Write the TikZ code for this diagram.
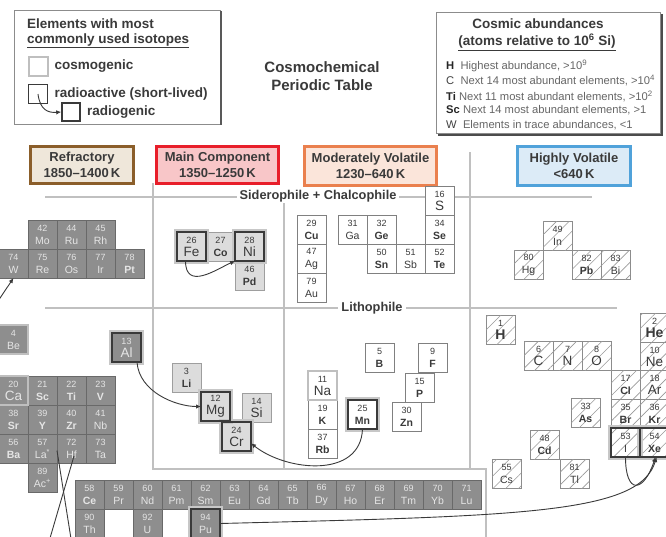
\documentclass[tikz,border=0pt]{standalone}
\usepackage{fontspec}
\setmainfont{Liberation Sans}
\usetikzlibrary{positioning, arrows.meta, patterns.meta, calc}

\definecolor{refrline}{RGB}{139,94,42}
\definecolor{refrfill}{RGB}{239,231,218}
\definecolor{mainline}{RGB}{232,30,42}
\definecolor{mainfill}{RGB}{248,198,200}
\definecolor{modline}{RGB}{234,128,78}
\definecolor{modfill}{RGB}{251,229,218}
\definecolor{volline}{RGB}{80,162,218}
\definecolor{volfill}{RGB}{220,235,247}
\definecolor{inkgray}{RGB}{58,58,58}
\definecolor{zonegray}{RGB}{192,192,192}
\definecolor{tiledark}{RGB}{142,142,142}
\definecolor{tileedge}{RGB}{105,105,105}
\definecolor{tilelight}{RGB}{220,220,220}

% number and symbol fonts (abundance classes of the key)
\newcommand\anum[1]{{\fontsize{9}{9}\selectfont #1}}
\newcommand\symH[1]{{\fontsize{14}{14}\selectfont\bfseries #1}}
\newcommand\symC[1]{{\fontsize{13.5}{14}\selectfont #1}}
\newcommand\symTi[1]{{\fontsize{10.5}{11}\selectfont\bfseries #1}}
\newcommand\symW[1]{{\fontsize{10.5}{11}\selectfont #1}}

\begin{document}
\begin{tikzpicture}[x=1pt, y=-1pt,
  tile/.style={draw, minimum width=29pt, minimum height=29pt, inner sep=0pt, outer sep=0pt,
    anchor=north west, align=center, font=\fontsize{8}{13}\selectfont, line width=0.7pt},
  refr/.style={tile, fill=tiledark, draw=tileedge, text=white!90!black},
  core/.style={tile, fill=tilelight, draw=black!38, text=inkgray},
  modv/.style={tile, fill=white, draw=black!50, text=inkgray},
  volh/.style={tile, fill=white, draw=black!45, text=inkgray,
    postaction={pattern={Lines[angle=45, distance=9pt, line width=0.6pt]}, pattern color=black!40}},
  halo/.style={draw=black!22, line width=3pt},
  radioedge/.style={draw=inkgray, line width=2.2pt},
  cosmoedge/.style={draw=black!25, line width=2.4pt},
  zone/.style={draw=zonegray, line width=2pt},
  zonelabel/.style={fill=white, text=inkgray, font=\bfseries\fontsize{12.8}{13}\selectfont, inner xsep=3pt, inner ysep=1pt},
  catbox/.style={line width=3pt, align=center, text=inkgray, font=\bfseries\fontsize{13}{16}\selectfont, inner sep=2pt},
  headtxt/.style={text=inkgray, font=\bfseries\fontsize{13.5}{15}\selectfont, inner sep=0pt},
  abtxt/.style={text=black!60, font=\fontsize{11.2}{13}\selectfont, anchor=west, inner sep=0pt},
  decay/.style={draw=inkgray, line width=0.9pt, -{Latex[length=5pt, width=4.5pt]}},
  legframe/.style={draw=black!45, line width=0.8pt},
  keybox/.style={minimum size=19pt, inner sep=0pt}
]
\useasboundingbox (0,0) rectangle (666,536);
\fill[white] (0,0) rectangle (666,536);
\clip (0,0) rectangle (666,536);

% key: isotopes
\draw[legframe] (14,10) rectangle (220,124);
\draw[black!65, line width=2pt] (221,11) -- (221,125);
\node[headtxt, anchor=west] (legtitle) at (27,24) {Elements with most};
\node[headtxt, anchor=west] (legsub) at (27,41) {\underline{commonly used isotopes}};
\node[keybox, draw=black!25, line width=2pt] (keycos) at (38,66) {};
\node[headtxt, anchor=west, right=6pt of keycos] (keycostxt) {cosmogenic};
\node[keybox, draw=inkgray, line width=1.6pt] (keyrad) at (38,94) {};
\node[headtxt, anchor=west, right=6pt of keyrad] (keyradtxt) {radioactive (short-lived)};
\node[keybox, minimum size=18pt, draw=inkgray, line width=1.6pt] (keygen) at (71,112) {};
\node[headtxt, anchor=west, right=6pt of keygen] (keygentxt) {radiogenic};
\draw[decay] (keyrad.center) .. controls (40,110) and (48,113) .. (keygen.west);

% title
\node[headtxt, align=center, font=\bfseries\fontsize{15}{18}\selectfont] (title) at (322,76) {Cosmochemical\\Periodic Table};

% key: abundances
\draw[legframe] (436,12) rectangle (660,133);
\draw[black!70, line width=2.5pt] (438,135) -- (662,135) -- (662,14);
\node[headtxt] (abtitle) at (538,24) {Cosmic abundances};
\node[headtxt] (absub) at (537,42) {\underline{(atoms relative to 10\textsuperscript{6} Si)}};
\node[abtxt] (abH) at (446,66) {\textcolor{black!85}{\textbf{H}}\ \ Highest abundance, >10\textsuperscript{9}};
\node[abtxt] (abC) at (446,81) {\textcolor{black!75}{C}\ \ Next 14 most abundant elements, >10\textsuperscript{4}};
\node[abtxt] (abTi) at (446,96) {\textcolor{black!85}{\textbf{Ti}}\ Next 11 most abundant elements, >10\textsuperscript{2}};
\node[abtxt] (abSc) at (446,110) {\textcolor{black!85}{\textbf{Sc}}\ Next 14 most abundant elements, >1};
\node[abtxt] (abW) at (446,125) {\textcolor{black!75}{W}\ \ Elements in trace abundances, <1};

% zone frame
\draw[zone] (45,197) -- (592,197);
\draw[zone] (45,308) -- (617,308);
\draw[zone] (153,183) -- (153,469) -- (486,469) -- (486,540);
\draw[zone] (284,197) -- (284,469);
\draw[zone] (470,152) -- (470,469);
\node[zonelabel] (sidero) at (318,196) {Siderophile + Chalcophile};
\node[zonelabel] (litho) at (372,308) {Lithophile};

% condensation classes
\node[catbox, draw=refrline, fill=refrfill, minimum width=103pt, minimum height=37pt] (refract) at (82,165) {Refractory\\1850--1400\,K};
\node[catbox, draw=mainline, fill=mainfill, minimum width=122pt, minimum height=37pt] (maincomp) at (217.5,165) {Main Component\\1350--1250\,K};
\node[catbox, draw=modline, fill=modfill, minimum width=132pt, minimum height=39pt] (modvol) at (370.5,166) {Moderately Volatile\\1230--640\,K};
\node[catbox, draw=volline, fill=volfill, minimum width=113pt, minimum height=39pt] (highvol) at (574,166) {Highly Volatile\\<640\,K};

% refractory
\node[refr] (Mo) at (28,220) {\anum{42}\\\symW{Mo}};
\node[refr, right=0pt of Mo] (Ru) {\anum{44}\\\symW{Ru}};
\node[refr, right=0pt of Ru] (Rh) {\anum{45}\\\symW{Rh}};
\node[refr] (W) at (-1,249) {\anum{74}\\\symW{W}};
\node[refr, right=0pt of W] (Re) {\anum{75}\\\symW{Re}};
\node[refr, right=0pt of Re] (Os) {\anum{76}\\\symW{Os}};
\node[refr, right=0pt of Os] (Ir) {\anum{77}\\\symW{Ir}};
\node[refr, right=0pt of Ir] (Pt) {\anum{78}\\\symTi{Pt}};
\node[refr] (Be) at (-1,325) {\anum{4}\\\symW{Be}};
\node[refr] (Al) at (112,333) {\anum{13}\\\symC{Al}};
\node[refr] (Ca) at (-1,376) {\anum{20}\\\symC{Ca}};
\node[refr, right=0pt of Ca] (Sc) {\anum{21}\\\symTi{Sc}};
\node[refr, right=0pt of Sc] (Ti) {\anum{22}\\\symTi{Ti}};
\node[refr, right=0pt of Ti] (V) {\anum{23}\\\symTi{V}};
\node[refr, below=0pt of Ca] (Sr) {\anum{38}\\\symTi{Sr}};
\node[refr, right=0pt of Sr] (Y) {\anum{39}\\\symTi{Y}};
\node[refr, right=0pt of Y] (Zr) {\anum{40}\\\symTi{Zr}};
\node[refr, right=0pt of Zr] (Nb) {\anum{41}\\\symW{Nb}};
\node[refr, below=0pt of Sr] (Ba) {\anum{56}\\\symTi{Ba}};
\node[refr, right=0pt of Ba] (La) {\anum{57}\\\symW{La\textsuperscript{*}}};
\node[refr, right=0pt of La] (Hf) {\anum{72}\\\symW{Hf}};
\node[refr, right=0pt of Hf] (Ta) {\anum{73}\\\symW{Ta}};
\node[refr, below=0pt of La] (Ac) {\anum{89}\\\symW{Ac\textsuperscript{+}}};
\foreach \z/\s [count=\i from 0] in {58/\symTi{Ce},59/\symW{Pr},60/\symW{Nd},61/\symW{Pm},62/\symW{Sm},
    63/\symW{Eu},64/\symW{Gd},65/\symW{Tb},66/\symW{Dy},67/\symW{Ho},68/\symW{Er},69/\symW{Tm},70/\symW{Yb},71/\symW{Lu}}
  \node[refr] (lan\z) at (75+29*\i,480) {\anum{\z}\\\s};
\node[refr] (Th) at (75,509) {\anum{90}\\\symW{Th}};
\node[refr] (U) at (133,509) {\anum{92}\\\symW{U}};
\node[refr] (Pu) at (191,509) {\anum{94}\\\symW{Pu}};

% main component
\node[core] (Fe) at (177,232) {\anum{26}\\\symC{Fe}};
\node[core, right=0pt of Fe] (Co) {\anum{27}\\\symTi{Co}};
\node[core, right=0pt of Co] (Ni) {\anum{28}\\\symC{Ni}};
\node[core, below=0pt of Ni] (Pd) {\anum{46}\\\symTi{Pd}};
\node[core] (Li) at (172,363) {\anum{3}\\\symTi{Li}};
\node[core] (Mg) at (201,392) {\anum{12}\\\symC{Mg}};
\node[core] (Si) at (242,393) {\anum{14}\\\symC{Si}};
\node[core] (Cr) at (222,422) {\anum{24}\\\symC{Cr}};

% moderately volatile
\node[modv] (Cu) at (297,215) {\anum{29}\\\symTi{Cu}};
\node[modv, below=0pt of Cu] (Ag) {\anum{47}\\\symW{Ag}};
\node[modv, below=0pt of Ag] (Au) {\anum{79}\\\symW{Au}};
\node[modv] (Ga) at (338,215) {\anum{31}\\\symW{Ga}};
\node[modv, right=0pt of Ga] (Ge) {\anum{32}\\\symTi{Ge}};
\node[modv, below=0pt of Ge] (Sn) {\anum{50}\\\symTi{Sn}};
\node[modv, right=0pt of Sn] (Sb) {\anum{51}\\\symW{Sb}};
\node[modv, right=0pt of Sb] (Te) {\anum{52}\\\symTi{Te}};
\node[modv, above=0pt of Te] (Se) {\anum{34}\\\symTi{Se}};
\node[modv, above=0pt of Se] (S) {\anum{16}\\\symC{S}};
\node[modv] (Na) at (308,371) {\anum{11}\\\symC{Na}};
\node[modv, below=0pt of Na] (K) {\anum{19}\\\symTi{K}};
\node[modv, below=0pt of K] (Rb) {\anum{37}\\\symTi{Rb}};
\node[modv] (Mn) at (348,400) {\anum{25}\\\symTi{Mn}};
\node[modv] (B) at (365,343) {\anum{5}\\\symTi{B}};
\node[modv] (F) at (418,343) {\anum{9}\\\symTi{F}};
\node[modv] (P) at (405,373) {\anum{15}\\\symTi{P}};
\node[modv] (Zn) at (392,402) {\anum{30}\\\symTi{Zn}};

% highly volatile
\node[volh] (In) at (543,221) {\anum{49}\\\symW{In}};
\node[volh] (Hg) at (514,250) {\anum{80}\\\symW{Hg}};
\node[volh] (Pb) at (572,250) {\anum{82}\\\symTi{Pb}};
\node[volh, right=0pt of Pb] (Bi) {\anum{83}\\\symW{Bi}};
\node[volh] (H) at (486,315) {\anum{1}\\\symH{H}};
\node[volh] (C) at (524,341) {\anum{6}\\\symC{C}};
\node[volh, right=0pt of C] (N) {\anum{7}\\\symC{N}};
\node[volh, right=0pt of N] (O) {\anum{8}\\\symC{O}};
\node[volh] (He) at (640,313) {\anum{2}\\\symH{He}};
\node[volh, below=0pt of He] (Ne) {\anum{10}\\\symC{Ne}};
\node[volh] (Cl) at (611,370) {\anum{17}\\\symTi{Cl}};
\node[volh, right=0pt of Cl] (Ar) {\anum{18}\\\symC{Ar}};
\node[volh, below=0pt of Cl] (Br) {\anum{35}\\\symTi{Br}};
\node[volh, right=0pt of Br] (Kr) {\anum{36}\\\symTi{Kr}};
\node[volh, below=0pt of Br] (I) {\anum{53}\\\symW{I}};
\node[volh, right=0pt of I] (Xe) {\anum{54}\\\symTi{Xe}};
\node[volh] (As) at (571,398) {\anum{33}\\\symTi{As}};
\node[volh] (Cd) at (530,430) {\anum{48}\\\symTi{Cd}};
\node[volh] (Tl) at (560,459) {\anum{81}\\\symW{Tl}};
\node[volh] (Cs) at (492,459) {\anum{55}\\\symW{Cs}};

% radioactive and cosmogenic frames
\foreach \e in {Al,Fe,Ni,Mg,Cr,Mn,I,Xe,Pu}
  \draw[halo] ([shift={(-1.5pt,1.5pt)}]\e.north west) rectangle ([shift={(1.5pt,-1.5pt)}]\e.south east);
\foreach \e in {Al,Fe,Ni,Mg,Cr,Mn,I,Xe,Pu}
  \draw[radioedge] (\e.north west) rectangle (\e.south east);
\foreach \e in {Be,Ca,Na}
  \draw[cosmoedge] (\e.north west) rectangle (\e.south east);

% decay systems
\coordinate (wentry) at (-8,310);
\coordinate (hfexit) at (48,545);
\coordinate (laexit) at (72,545);
\draw[decay] ([xshift=-6pt]Fe.south) .. controls +(0,30) and +(-18,8) .. (Ni.south west);
\draw[decay] ([xshift=-4pt]Al.south east) .. controls +(2,30) and +(-25,0) .. (Mg.west);
\draw[decay] (Mn.south) .. controls +(-2,50) and +(35,28) .. (Cr.-25);
\draw[decay] (I.south) .. controls +(0,38) and +(-12,36) .. ([xshift=1pt]Xe.south);
\draw[decay] (Pu.east) .. controls (520,516) and (640,514) .. ([xshift=2pt]Xe.south);
\draw[decay] (wentry) -- (W.south);
\draw[inkgray, line width=0.9pt] ($(Hf.south)+(2.5,-7)$) -- (hfexit);
\draw[inkgray, line width=0.9pt] ($(Hf.west)+(0,2)$) -- (laexit);
\end{tikzpicture}
\end{document}
